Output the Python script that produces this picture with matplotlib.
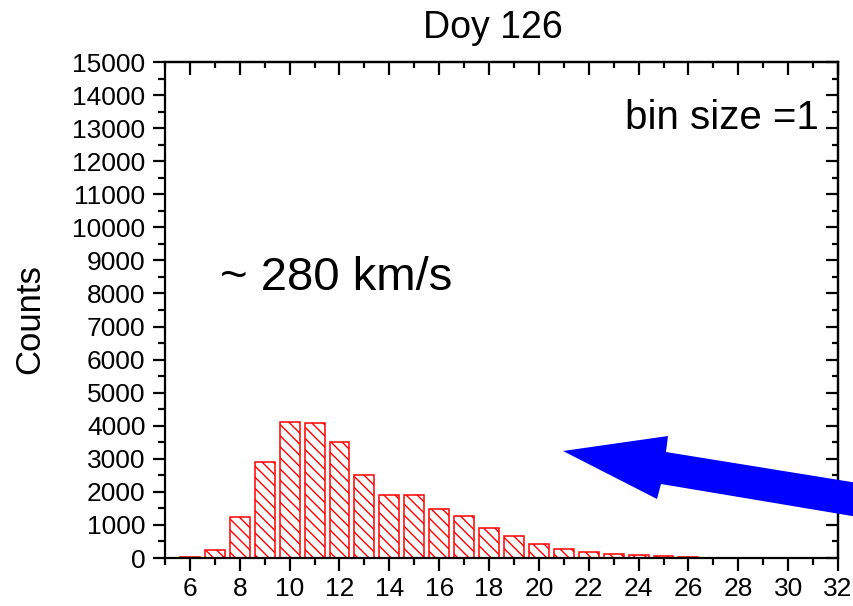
import matplotlib
matplotlib.use("Agg")
import matplotlib.pyplot as plt
from matplotlib.patches import Polygon
from matplotlib.ticker import MultipleLocator

# speed bins (bin size = 1) and counts per bin
bins = [6, 7, 8, 9, 10, 11, 12, 13, 14, 15, 16, 17, 18, 19, 20,
        21, 22, 23, 24, 25, 26]
counts = [20, 250, 1230, 2910, 4120, 4090, 3520, 2510, 1915, 1895, 1490,
          1260, 900, 675, 425, 265, 190, 130, 90, 50, 30]

x_ticks = list(range(6, 33, 2))
y_ticks = list(range(0, 15001, 1000))

plt.rcParams['font.family'] = ['Liberation Sans', 'DejaVu Sans']
plt.rcParams['hatch.color'] = 'red'
plt.rcParams['hatch.linewidth'] = 1.0

W, H = 854, 606
fig = plt.figure(figsize=(W / 100, H / 100), dpi=100)
ax = fig.add_axes([165 / W, 1 - 558 / H, 673 / W, 496 / H])

ax.bar(bins, counts, width=0.8, facecolor='white', edgecolor='red',
       linewidth=1.1, hatch='\\' * 3)

ax.set_xlim(5, 32)
ax.set_ylim(0, 15000)
ax.set_xticks(x_ticks)
ax.set_yticks(y_ticks)
ax.xaxis.set_minor_locator(MultipleLocator(1))
ax.yaxis.set_minor_locator(MultipleLocator(500))

for sp in ax.spines.values():
    sp.set_linewidth(1.6)

ax.tick_params(which='both', direction='out', width=1.6, labelsize=19,
               top=False, right=False)
ax.tick_params(which='major', length=9, pad=5)
ax.tick_params(which='minor', length=5)

# inward ticks on the top and right edges
axt = ax.secondary_xaxis('top')
axt.set_xticks(x_ticks)
axt.xaxis.set_minor_locator(MultipleLocator(1))
axt.tick_params(which='both', direction='in', width=1.6, labeltop=False)
axt.tick_params(which='major', length=9)
axt.tick_params(which='minor', length=4)
axr = ax.secondary_yaxis('right')
axr.set_yticks(y_ticks)
axr.yaxis.set_minor_locator(MultipleLocator(500))
axr.tick_params(which='both', direction='in', width=1.6, labelright=False)
axr.tick_params(which='major', length=9)
axr.tick_params(which='minor', length=4)
for a in (axt, axr):
    for sp in a.spines.values():
        sp.set_linewidth(1.6)

fig.text(493 / W, 1 - 38 / H, 'Doy 126', fontsize=27, ha='center',
         va='baseline')
fig.text(30 / W, 1 - 319 / H, 'Counts', fontsize=25, rotation=90,
         ha='center', va='center')

ax.text(7.2, 8100, '~ 280 km/s', fontsize=34, va='baseline')
ax.text(31.22, 12970, 'bin size =1', fontsize=29, ha='right',
        va='baseline')

# blue arrow pointing left toward the distribution
arrow_px = [(563, 451), (668, 436), (666, 452), (870, 485),
            (870, 519), (661, 484), (657, 499)]
arrow = Polygon([(x / W, 1 - y / H) for x, y in arrow_px], closed=True,
                transform=fig.transFigure, facecolor='#0000ff',
                edgecolor='none', clip_on=False)
fig.patches.append(arrow)

fig.savefig('out.png', dpi=100)
